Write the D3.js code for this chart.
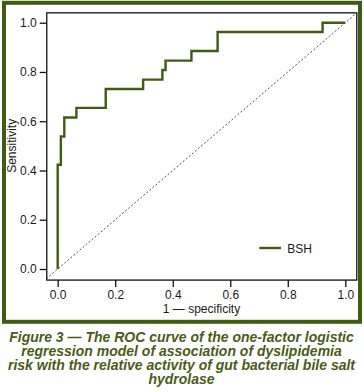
<!DOCTYPE html>
<html>
<head>
<meta charset="utf-8">
<script src="https://cdn.jsdelivr.net/npm/d3@7"></script>
<style>
  html, body { margin: 0; padding: 0; background: #ffffff; }
  svg { display: block; }
</style>
</head>
<body>
<script>
// ---- data ----
const fpr = [0, 0.011, 0.023, 0.065, 0.167, 0.297, 0.364, 0.375, 0.465, 0.556, 0.921, 1.0];
const tpr = [0, 0.423, 0.538, 0.615, 0.654, 0.731, 0.769, 0.808, 0.846, 0.885, 0.962, 1.0];
const xTicks = [0, 0.2, 0.4, 0.6, 0.8, 1.0];
const yTicks = [0, 0.2, 0.4, 0.6, 0.8, 1.0];
const seriesName = "BSH";
const xLabel = "1 \u2014 specificity";
const yLabel = "Sensitivity";
const captionLines = [
  "Figure 3 \u2014 The ROC curve of the one-factor logistic",
  "regression model of association of dyslipidemia",
  "risk with the relative activity of gut bacterial bile salt",
  "hydrolase"
];

const W = 364, H = 392;
const green = "#405c14";
const font = "'Liberation Sans', Arial, sans-serif";

const svg = d3.select("body").append("svg")
  .attr("width", W).attr("height", H);

svg.append("rect").attr("width", W).attr("height", H).attr("fill", "#fff");

// outer green frame
svg.append("rect")
  .attr("x", 4).attr("y", 2.8).attr("width", 356).attr("height", 319)
  .attr("fill", "none").attr("stroke", green).attr("stroke-width", 4);

// scales
const x = d3.scaleLinear().domain([0, 1]).range([57.7, 345.3]);
const y = d3.scaleLinear().domain([0, 1]).range([269, 22.7]);
const xl = x(-0.038), xr = x(1.04), yb = y(-0.045), yt = y(1.04);

// diagonal reference line
svg.append("line")
  .attr("x1", x(-0.04)).attr("y1", y(-0.04))
  .attr("x2", x(1.04)).attr("y2", y(1.04))
  .attr("stroke", "#555").attr("stroke-width", 1)
  .attr("stroke-dasharray", "2,2");

// ROC curve
const pts = fpr.map((f, i) => [f, tpr[i]]);
svg.append("path")
  .datum(pts)
  .attr("fill", "none")
  .attr("stroke", green)
  .attr("stroke-width", 2.4)
  .attr("d", d3.line().x(d => x(d[0])).y(d => y(d[1])).curve(d3.curveStepBefore));

// plot box
svg.append("rect")
  .attr("x", xl).attr("y", yt).attr("width", xr - xl).attr("height", yb - yt)
  .attr("fill", "none").attr("stroke", "#111").attr("stroke-width", 1.3);

// axes
const fmt = d3.format(".1f");
const gx = svg.append("g").attr("transform", `translate(0,${yb})`)
  .call(d3.axisBottom(x).tickValues(xTicks).tickFormat(fmt).tickSize(7).tickPadding(3.5));
const gy = svg.append("g").attr("transform", `translate(${xl},0)`)
  .call(d3.axisLeft(y).tickValues(yTicks).tickFormat(fmt).tickSize(7).tickPadding(3));
[gx, gy].forEach(g => {
  g.select(".domain").remove();
  g.selectAll(".tick line").attr("stroke", "#111").attr("stroke-width", 1.3);
  g.selectAll(".tick text").attr("fill", "#1a1a1a")
    .style("font-family", font).style("font-size", "12px");
});

// axis titles
svg.append("text")
  .attr("x", 201.5).attr("y", 313)
  .attr("text-anchor", "middle")
  .style("font-family", font).style("font-size", "12px").attr("fill", "#1a1a1a")
  .text(xLabel);
svg.append("text")
  .attr("transform", `translate(15.5,${y(0.5)}) rotate(-90)`)
  .attr("text-anchor", "middle")
  .style("font-family", font).style("font-size", "12px").attr("fill", "#1a1a1a")
  .text(yLabel);

// legend
svg.append("line")
  .attr("x1", 259.3).attr("x2", 281).attr("y1", 248).attr("y2", 248)
  .attr("stroke", green).attr("stroke-width", 2.4);
svg.append("text")
  .attr("x", 287.3).attr("y", 252.5)
  .style("font-family", font).style("font-size", "12px").attr("fill", "#1a1a1a")
  .text(seriesName);

// caption
svg.append("g").selectAll("text")
  .data(captionLines).join("text")
  .attr("x", 181.5).attr("y", (d, i) => 342 + i * 14)
  .attr("text-anchor", "middle")
  .style("font-family", font).style("font-size", "14px")
  .style("font-weight", "bold").style("font-style", "italic")
  .attr("fill", "#4b5b17")
  .text(d => d);
</script>
</body>
</html>
